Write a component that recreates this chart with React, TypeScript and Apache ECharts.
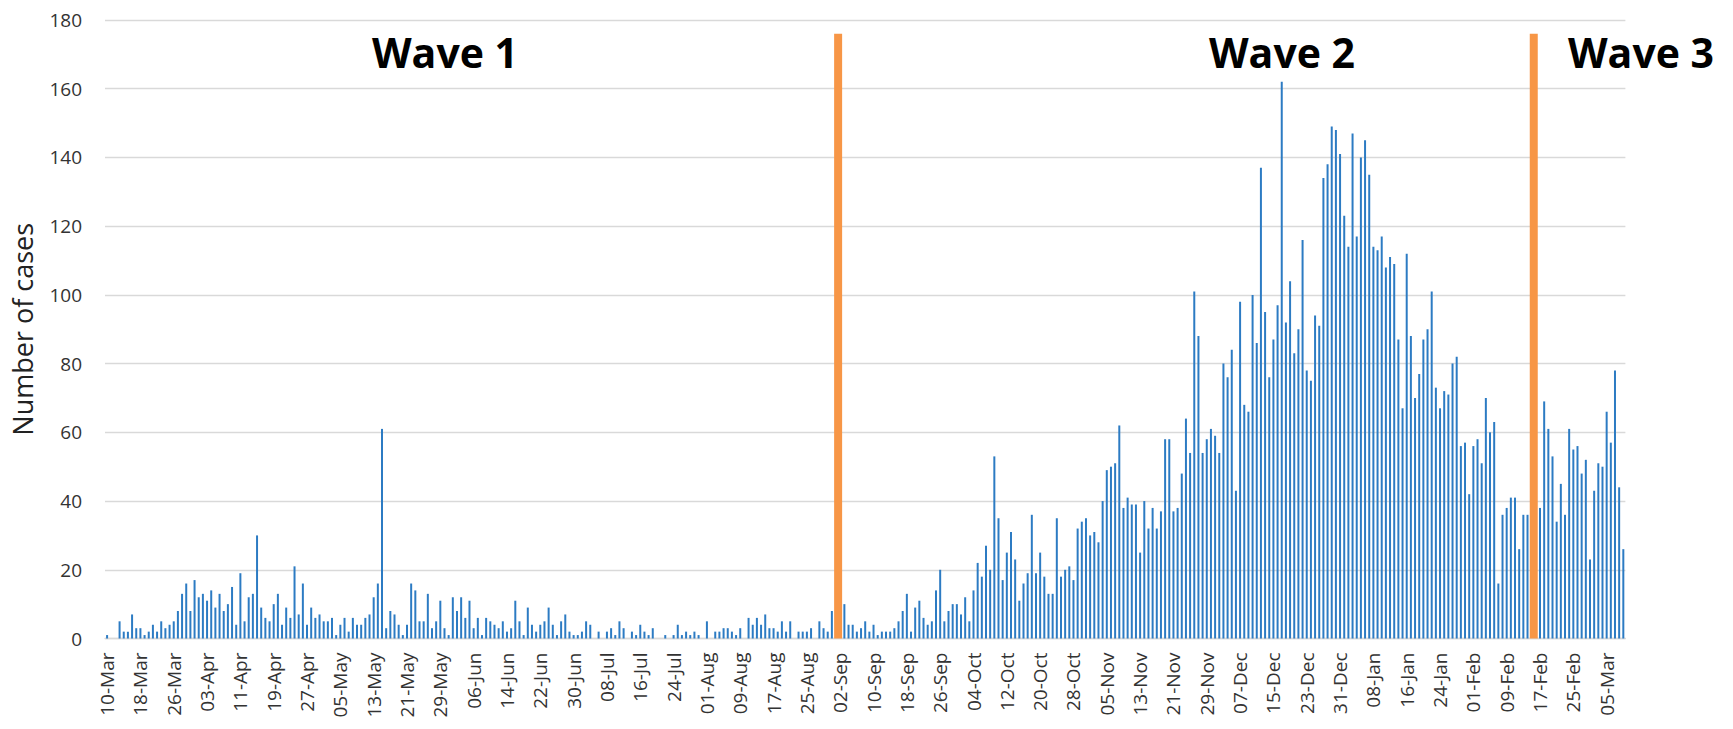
import React, { useEffect, useRef } from "react";
import * as echarts from "echarts";

// Daily cases, 10-Mar-2020 .. 09-Mar-2021
const wave1Cases = [
  1, 0, 0, 5, 2, 2, 7, 3, 3, 1,
  2, 4, 2, 5, 3, 4, 5, 8, 13, 16,
  8, 17, 12, 13, 11, 14, 9, 13, 8, 10,
  15, 4, 19, 5, 12, 13, 30, 9, 6, 5,
  10, 13, 4, 9, 6, 21, 7, 16, 4, 9,
  6, 7, 5, 5, 6, 1, 4, 6, 2, 6,
  4, 4, 6, 7, 12, 16, 61, 3, 8, 7,
  4, 1, 4, 16, 14, 5, 5, 13, 3, 5,
  11, 3, 1, 12, 8, 12, 6, 11, 3, 6,
  1, 6, 5, 4, 3, 5, 2, 3, 11, 5,
  1, 9, 4, 2, 4, 5, 9, 4, 1, 5,
  7, 2, 1, 1, 2, 5, 4, 0, 2, 0,
  2, 3, 1, 5, 3, 0, 2, 1, 4, 2,
  1, 3, 0, 0, 1, 0, 1, 4, 1, 2,
  1, 2, 1, 0, 5, 0, 2, 2, 3, 3,
  2, 1, 3, 0, 6, 4, 6, 4, 7, 3,
  3, 2, 5, 2, 5, 0, 2, 2, 2, 3,
  0, 5, 3, 2, 8, 0,
];
const wave2Cases = [
  0, 10, 4, 4,
  2, 3, 5, 2, 4, 1, 2, 2, 2, 3,
  5, 8, 13, 2, 9, 11, 6, 4, 5, 14,
  20, 5, 8, 10, 10, 7, 12, 5, 14, 22,
  18, 27, 20, 53, 35, 17, 25, 31, 23, 11,
  16, 19, 36, 19, 25, 18, 13, 13, 35, 18,
  20, 21, 17, 32, 34, 35, 30, 31, 28, 40,
  49, 50, 51, 62, 38, 41, 39, 39, 25, 40,
  32, 38, 32, 37, 58, 58, 37, 38, 48, 64,
  54, 101, 88, 54, 58, 61, 59, 54, 80, 76,
  84, 43, 98, 68, 66, 100, 86, 137, 95, 76,
  87, 97, 162, 92, 104, 83, 90, 116, 78, 75,
  94, 91, 134, 138, 149, 148, 141, 123, 114, 147,
  117, 140, 145, 135, 114, 113, 117, 108, 111, 109,
  87, 67, 112, 88, 70, 77, 87, 90, 101, 73,
  67, 72, 71, 80, 82, 56, 57, 42, 56, 58,
  51, 70, 60, 63, 16, 36, 38, 41, 41, 26,
  36, 36, 0, 0,
];
const wave3Cases = [
  38, 69, 61, 53, 34, 45, 36, 61, 55, 56,
  48, 52, 23, 43, 51, 50, 66, 57, 78, 44, 26,
];
const cases = [...wave1Cases, ...wave2Cases, ...wave3Cases];

const monthNames = ["Jan", "Feb", "Mar", "Apr", "May", "Jun", "Jul", "Aug", "Sep", "Oct", "Nov", "Dec"];
const startDate = Date.UTC(2020, 2, 10);
const categories = cases.map((_, i) => {
  const d = new Date(startDate + i * 86400000);
  const dd = String(d.getUTCDate()).padStart(2, "0");
  return `${dd}-${monthNames[d.getUTCMonth()]}`;
});

const waveBoundaries = [175.5, 342.5]; // between days, in category index units
const boundaryTop = 176;
const waveLabels = ["Wave 1", "Wave 2", "Wave 3"];
const waveLabelX = [445, 1282, 1641];

const FONT = "'Open Sans', 'Noto Sans', sans-serif";

export default function App() {
  const ref = useRef<HTMLDivElement>(null);
  useEffect(() => {
    document.body.style.margin = "0";
    const chart = echarts.init(ref.current!, null, { renderer: "svg" });
    chart.setOption({
      animation: false,
      backgroundColor: "#ffffff",
      grid: { left: 105, right: 107.6, top: 20, bottom: 90.5, containLabel: false },
      xAxis: [
        {
          type: "category",
          data: categories,
          boundaryGap: true,
          axisLine: { lineStyle: { color: "#d9d9d9", width: 1.3 } },
          axisTick: { show: false },
          axisLabel: {
            interval: 7,
            rotate: 90,
            fontSize: 19,
            fontFamily: FONT,
            color: "#333333",
            margin: 14,
          },
          splitLine: { show: false },
        },
        { type: "value", min: -0.5, max: cases.length - 0.5, show: false },
      ],
      yAxis: {
        type: "value",
        min: 0,
        max: 180,
        interval: 20,
        axisLine: { show: false },
        axisTick: { show: false },
        axisLabel: { fontSize: 19, fontFamily: FONT, color: "#333333", margin: 23 },
        splitLine: { lineStyle: { color: "#d9d9d9", width: 1.3 } },
        name: "Number of cases",
        nameLocation: "middle",
        nameGap: 69,
        nameTextStyle: { fontSize: 27, fontFamily: FONT, color: "#222222" },
      },
      series: [
        {
          type: "bar",
          data: cases,
          barWidth: 2,
          itemStyle: { color: "#2c7bc3" },
          silent: true,
        },
        ...waveBoundaries.map((b) => ({
          type: "line",
          xAxisIndex: 1,
          data: [
            [b, 0],
            [b, boundaryTop],
          ],
          symbol: "none",
          silent: true,
          z: 5,
          lineStyle: { color: "#F79646", width: 8, cap: "butt" },
        })),
      ],
      graphic: waveLabels.map((t, i) => ({
        type: "text",
        x: waveLabelX[i],
        y: 52,
        style: {
          text: t,
          font: `bold 41px ${FONT}`,
          fill: "#000000",
          align: "center",
          verticalAlign: "middle",
        },
      })),
    });
    return () => chart.dispose();
  }, []);
  return <div ref={ref} style={{ width: 1733, height: 729 }} />;
}
